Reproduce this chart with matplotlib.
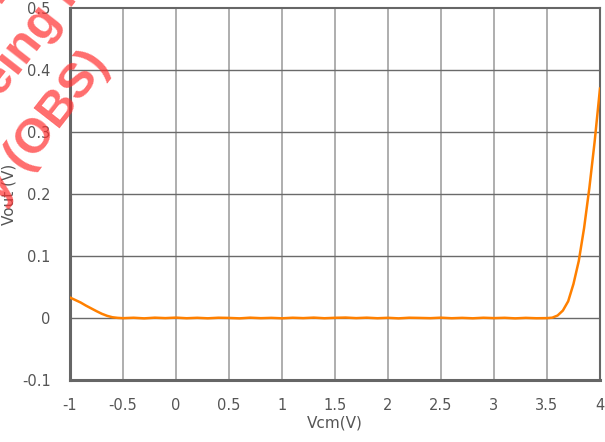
import matplotlib
matplotlib.use("Agg")
import matplotlib.pyplot as plt
from matplotlib.transforms import IdentityTransform

# Vout vs common-mode input voltage
vcm = [-1.0, -0.95, -0.9, -0.85, -0.8, -0.75, -0.7, -0.65, -0.6, -0.55, -0.5,
       -0.4, -0.3, -0.2, -0.1, 0.0, 0.1, 0.2, 0.3, 0.4, 0.5, 0.6, 0.7, 0.8, 0.9,
       1.0, 1.1, 1.2, 1.3, 1.4, 1.5, 1.6, 1.7, 1.8, 1.9, 2.0, 2.1, 2.2, 2.3, 2.4,
       2.5, 2.6, 2.7, 2.8, 2.9, 3.0, 3.1, 3.2, 3.3, 3.4,
       3.5, 3.55, 3.6, 3.65, 3.7, 3.75, 3.8, 3.85, 3.9, 3.95, 4.0]
vout = [0.033, 0.029, 0.025, 0.020, 0.0155, 0.011, 0.0068, 0.0035, 0.0012, 0.0002, -0.0003,
        0.0004, -0.0006, 0.0005, -0.0002, 0.0006, -0.0004, 0.0003, -0.0005, 0.0004, 0.0001,
        -0.0006, 0.0005, -0.0003, 0.0002, -0.0005, 0.0004, -0.0002, 0.0006, -0.0004, 0.0003,
        0.0007, -0.0002, 0.0005, -0.0004, 0.0003, -0.0006, 0.0004, 0.0001, -0.0003, 0.0005,
        -0.0004, 0.0002, -0.0005, 0.0004, -0.0002, 0.0003, -0.0006, 0.0002, -0.0004,
        -0.0002, 0.0005, 0.004, 0.012, 0.027, 0.055, 0.092, 0.145, 0.21, 0.285, 0.37]

x_ticks = [-1, -0.5, 0, 0.5, 1, 1.5, 2, 2.5, 3, 3.5, 4]
x_labels = ["-1", "-0.5", "0", "0.5", "1", "1.5", "2", "2.5", "3", "3.5", "4"]
y_ticks = [-0.1, 0, 0.1, 0.2, 0.3, 0.4, 0.5]
y_labels = ["-0.1", "0", "0.1", "0.2", "0.3", "0.4", "0.5"]

W, H = 605, 442
fig = plt.figure(figsize=(W / 100, H / 100), dpi=100)
ax = fig.add_axes([0.1157, 0.1403, 0.876, 0.8416])

# grid: vertical lines lighter than horizontal ones
for xt in x_ticks[1:-1]:
    ax.axvline(xt, color="#a8a8a8", lw=1.3, zorder=1)
for yt in y_ticks[1:-1]:
    ax.axhline(yt, color="#6a6a6a", lw=1.0, zorder=1)

ax.plot(vcm, vout, color="#ff8000", lw=1.8, zorder=3)

ax.set_xlim(-1, 4)
ax.set_ylim(-0.1, 0.5)
ax.set_xticks(x_ticks)
ax.set_xticklabels(x_labels)
ax.set_yticks(y_ticks)
ax.set_yticklabels(y_labels)
ax.tick_params(length=0, labelsize=10.5, colors="#555555")
ax.tick_params(axis="x", pad=13)
ax.tick_params(axis="y", pad=14)

for side in ["top", "right"]:
    ax.spines[side].set_color("#666666")
    ax.spines[side].set_linewidth(1.5)
for side in ["left", "bottom"]:
    ax.spines[side].set_color("#666666")
    ax.spines[side].set_linewidth(2.2)

ax.set_xlabel("Vcm(V)", fontsize=11, color="#555555", labelpad=2)
ax.set_ylabel("Vout (V)", fontsize=11, color="#555555", labelpad=4)

# red watermark in the top-left corner (mostly outside the canvas)
def stamp(txt, px, py, ha="left"):
    fig.text(px, H - py, txt, transform=IdentityTransform(), color="#ff3030",
             alpha=0.7, fontsize=35, fontweight="bold", family="Liberation Sans",
             rotation=52, rotation_mode="anchor", ha=ha, va="baseline", zorder=10)

stamp("Product", -60, 80)
stamp("being n", -18, 122)
stamp("ty (OBS)", 110, 64, ha="right")

fig.savefig("out.png", dpi=100)
